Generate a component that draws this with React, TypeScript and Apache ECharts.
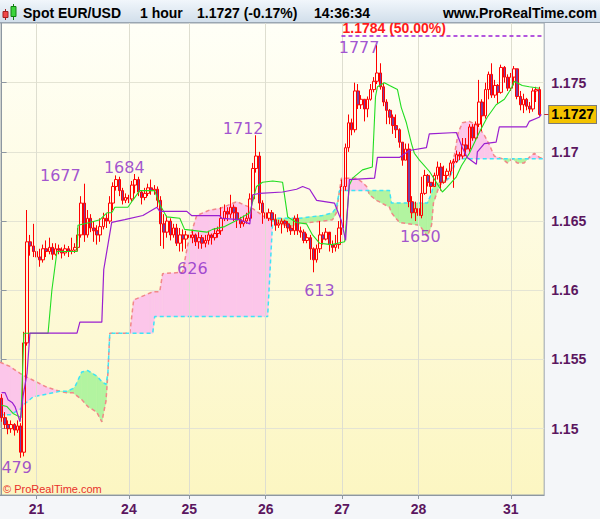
import React, { useEffect, useRef } from 'react';
import * as echarts from 'echarts';

// Prices are stored in pips: price = 1 + value / 10000
const firstOpen = 1522;
const closes = [
  1508, 1503, 1500, 1503, 1499, 1502, 1483, 1562, 1635, 1632,
  1628, 1624, 1622, 1630, 1628, 1631, 1626, 1630, 1629, 1627,
  1630, 1628, 1629, 1631, 1640, 1663, 1640, 1652, 1645, 1643,
  1640, 1646, 1652, 1650, 1663, 1675, 1680, 1672, 1665, 1667,
  1666, 1676, 1680, 1671, 1667, 1670, 1674, 1672, 1673, 1665,
  1648, 1642, 1650, 1640, 1645, 1634, 1640, 1637, 1640, 1638,
  1640, 1635, 1638, 1634, 1636, 1640, 1638, 1641, 1643, 1652,
  1657, 1655, 1660, 1656, 1651, 1648, 1650, 1652, 1666, 1688,
  1697, 1663, 1656, 1652, 1656, 1651, 1647, 1648, 1650, 1648,
  1645, 1643, 1652, 1643, 1642, 1636, 1638, 1630, 1622, 1630,
  1640, 1637, 1642, 1633, 1631, 1633, 1645, 1675, 1703, 1721,
  1716, 1744, 1734, 1738, 1731, 1738, 1745, 1751, 1757, 1747,
  1736, 1730, 1725, 1719, 1716, 1707, 1694, 1702, 1664, 1656,
  1659, 1654, 1670, 1683, 1678, 1675, 1683, 1689, 1678, 1683,
  1686, 1692, 1693, 1698, 1697, 1705, 1702, 1718, 1710, 1720,
  1736, 1726, 1745, 1756, 1741, 1748, 1743, 1761, 1754, 1746,
  1754, 1760, 1740, 1734, 1738, 1733, 1731, 1744, 1745, 1727,
];
const highs = [
  1525, 1512, 1506, 1506, 1504, 1506, 1504, 1570, 1658, 1640,
  1648, 1632, 1630, 1633, 1636, 1638, 1634, 1634, 1633, 1631,
  1633, 1632, 1638, 1634, 1645, 1668, 1677, 1658, 1655, 1650,
  1647, 1652, 1656, 1655, 1668, 1678, 1683, 1682, 1674, 1670,
  1669, 1679, 1684, 1682, 1672, 1674, 1677, 1680, 1676, 1675,
  1668, 1655, 1654, 1652, 1648, 1648, 1645, 1644, 1643, 1642,
  1643, 1641, 1642, 1640, 1640, 1643, 1641, 1645, 1646, 1660,
  1662, 1660, 1669, 1662, 1660, 1653, 1654, 1656, 1670, 1692,
  1712, 1700, 1665, 1658, 1659, 1658, 1655, 1651, 1652, 1651,
  1650, 1647, 1654, 1655, 1646, 1644, 1641, 1640, 1631, 1633,
  1650, 1642, 1645, 1640, 1636, 1640, 1650, 1680, 1706, 1727,
  1724, 1750, 1749, 1741, 1738, 1740, 1749, 1754, 1777, 1764,
  1750, 1738, 1731, 1727, 1727, 1717, 1707, 1706, 1706, 1668,
  1664, 1662, 1682, 1687, 1684, 1678, 1685, 1693, 1692, 1690,
  1688, 1694, 1695, 1701, 1700, 1710, 1710, 1720, 1720, 1722,
  1752, 1738, 1750, 1758, 1764, 1752, 1749, 1763, 1762, 1756,
  1757, 1762, 1760, 1744, 1742, 1739, 1736, 1746, 1747, 1747,
];
const lows = [
  1505, 1500, 1496, 1497, 1495, 1497, 1479, 1480, 1560, 1625,
  1624, 1618, 1617, 1620, 1624, 1626, 1622, 1625, 1626, 1623,
  1625, 1624, 1626, 1627, 1628, 1638, 1635, 1638, 1642, 1635,
  1633, 1635, 1644, 1645, 1648, 1658, 1672, 1668, 1662, 1663,
  1663, 1664, 1670, 1668, 1662, 1665, 1668, 1669, 1669, 1660,
  1632, 1630, 1638, 1636, 1638, 1632, 1628, 1628, 1630, 1626,
  1634, 1632, 1630, 1630, 1631, 1633, 1633, 1636, 1638, 1640,
  1650, 1650, 1652, 1650, 1645, 1645, 1646, 1648, 1650, 1664,
  1685, 1658, 1648, 1648, 1650, 1646, 1643, 1645, 1641, 1645,
  1642, 1640, 1640, 1640, 1638, 1634, 1634, 1622, 1613, 1620,
  1627, 1633, 1636, 1628, 1627, 1628, 1630, 1640, 1672, 1700,
  1712, 1714, 1731, 1731, 1722, 1725, 1737, 1743, 1749, 1745,
  1733, 1720, 1720, 1713, 1710, 1703, 1690, 1694, 1660, 1652,
  1650, 1651, 1652, 1669, 1675, 1670, 1675, 1680, 1672, 1677,
  1680, 1683, 1674, 1692, 1694, 1695, 1697, 1700, 1708, 1708,
  1718, 1715, 1724, 1738, 1739, 1739, 1735, 1742, 1750, 1744,
  1744, 1748, 1738, 1730, 1728, 1730, 1728, 1729, 1736, 1726,
];
const slotCount = 171;

// x-axis day labels (candle index where each day starts)
const dayTickIdx = [11, 40, 59, 83, 107, 131, 160];
const dayTickLabels = ['21', '24', '25', '26', '27', '28', '31'];

// y-axis tick labels
const yTicks = [1.15, 1.155, 1.16, 1.165, 1.17, 1.175];

// Tenkan (green) vertices: candle position, pips
const tenkanX = [0, 1.7, 3.6, 6.1, 7.0, 14.6, 15.8, 17.4, 23.7, 24.0, 27.7, 30.9, 33.1, 34.6, 35.6, 39.7, 41.2, 43.4, 48.1, 49.7, 51.9, 56.0, 57.5, 64.5, 66.3, 70.1, 74.2, 78.0, 80.1, 82.0, 85.2, 88.3, 89.9, 92.7, 95.8, 97.7, 99.9, 103.7, 107.8, 109.3, 110.3, 113.4, 116.5, 117.5, 118.1, 120.3, 121.9, 124.4, 125.6, 127.2, 128.8, 129.7, 131.3, 134.4, 136.6, 138.5, 139.8, 142.9, 144.5, 147.0, 150.1, 152.6, 155.4, 158.0, 160.2, 161.1, 163.6, 165.8, 169.0];
const tenkanV = [1517, 1516, 1511, 1508, 1569, 1569, 1600, 1628, 1628, 1647, 1649, 1651, 1656, 1656, 1660, 1660, 1665, 1672, 1672, 1662, 1653, 1652, 1644, 1642, 1644, 1646, 1651, 1656, 1675, 1678, 1679, 1678, 1653, 1649, 1648, 1640, 1634, 1633, 1635, 1676, 1681, 1687, 1689, 1740, 1747, 1750, 1748, 1745, 1732, 1721, 1706, 1699, 1694, 1686, 1678, 1671, 1674, 1682, 1690, 1699, 1714, 1725, 1734, 1738, 1746, 1751, 1748, 1747, 1746];

// Kijun (purple) vertices
const kijunX = [0, 1.1, 2.0, 3.3, 4.2, 5.1, 5.8, 6.7, 8.0, 8.9, 23.7, 24.6, 31.5, 32.1, 34.6, 38.7, 44.4, 48.8, 49.7, 58.2, 59.7, 68.5, 69.2, 74.8, 78.0, 78.9, 81.1, 88.3, 92.7, 94.6, 96.8, 99.0, 104.6, 106.8, 108.1, 109.3, 117.2, 118.1, 125.0, 128.1, 133.5, 134.4, 142.9, 144.8, 146.3, 149.2, 149.5, 151.7, 155.4, 156.4, 164.9, 165.8, 168.9, 169.6];
const kijunV = [1526, 1526, 1521, 1519, 1516, 1510, 1505, 1523, 1540, 1569, 1569, 1577, 1577, 1615, 1649, 1651, 1654, 1660, 1657, 1657, 1654, 1654, 1652, 1651, 1648, 1669, 1670, 1671, 1673, 1675, 1673, 1665, 1663, 1650, 1636, 1680, 1681, 1696, 1696, 1701, 1703, 1713, 1714, 1703, 1696, 1691, 1700, 1706, 1707, 1718, 1718, 1722, 1725, 1727];

// Cloud: span A (salmon) and span B (cyan)
const cloudX = [-0.5, 2.6, 5.8, 7.3, 9.9, 14.2, 18.3, 20.5, 22.4, 23.0, 25.2, 27.1, 29.9, 31.5, 32.8, 33.4, 34.0, 40.3, 41.5, 46.6, 47.5, 48.1, 49.7, 50.6, 56.9, 58.5, 61.3, 65.4, 68.5, 73.9, 78.9, 82.0, 83.6, 85.2, 86.4, 90.5, 93.6, 96.8, 100.9, 104.0, 105.2, 106.2, 106.8, 111.5, 113.4, 114.7, 115.6, 117.8, 121.9, 122.5, 125.0, 131.3, 133.8, 135.1, 135.7, 137.6, 140.7, 142.3, 143.5, 144.8, 147.0, 149.5, 151.7, 153.3, 154.8, 157.3, 158.9, 160.5, 162.0, 164.2, 165.8, 167.4, 169.0, 170.5];
const spanA = [1548, 1545, 1540, 1538, 1535, 1530, 1527, 1526, 1526, 1525, 1521, 1516, 1512, 1505, 1520, 1540, 1569, 1569, 1593, 1598, 1599, 1599, 1599, 1612, 1613, 1633, 1654, 1658, 1659, 1664, 1659, 1654, 1652, 1650, 1649, 1646, 1648, 1649, 1650, 1651, 1656, 1672, 1681, 1681, 1678, 1675, 1669, 1665, 1660, 1656, 1649, 1647, 1639, 1647, 1663, 1676, 1681, 1698, 1714, 1721, 1722, 1719, 1712, 1705, 1697, 1695, 1692, 1695, 1692, 1692, 1696, 1699, 1696, 1695];
const spanB = [1510, 1510, 1514, 1518, 1523, 1525, 1527, 1527, 1529, 1530, 1541, 1542, 1538, 1534, 1532, 1540, 1569, 1569, 1569, 1569, 1569, 1581, 1581, 1581, 1581, 1581, 1581, 1581, 1581, 1581, 1581, 1581, 1581, 1651, 1652, 1652, 1652, 1653, 1654, 1656, 1660, 1672, 1672, 1672, 1672, 1672, 1672, 1672, 1672, 1663, 1663, 1663, 1663, 1670, 1676, 1678, 1681, 1690, 1694, 1695, 1695, 1695, 1695, 1695, 1695, 1695, 1695, 1695, 1695, 1695, 1695, 1695, 1695, 1695];

// Highs / lows annotations
const extremeIdx = [118, 80, 42, 26, 59, 98, 130, 6];
const extremeVal = [1777, 1712, 1684, 1677, 1626, 1613, 1650, 1479];
const extremeText = ['1777', '1712', '1684', '1677', '626', '613', '1650', '479'];

// Header / markers
const instrument = 'Spot EUR/USD';
const timeframe = '1 hour';
const lastQuote = '1.1727 (-0.17%)';
const clock = '14:36:34';
const lastPrice = 1.1727;
const fibLevel = 1.1784;
const fibText = '1.1784 (50.00%)';
const fibStartIdx = 106.8;

const P = (v: number) => +(1 + v / 10000).toFixed(4);

const labelOffsets = [[-18, 2], [-13, -7], [-11, -7], [-24, -8], [3, 14], [6, 18], [5, 15], [-4, 10]];
const PINK = '#fcc6ea';
const GREEN = '#b2f4a0';
const AXIS_TXT = '#5b1660';
const FONT = '"Liberation Sans", Arial, sans-serif';
const Y_MIN = 1.14521;
const Y_MAX = 1.17931;

function buildOption() {
  const candleData = closes.map((c, i) => {
    const o = i === 0 ? firstOpen : closes[i - 1];
    return [P(o), P(c), P(lows[i]), P(highs[i])];
  });
  const cats = Array.from({ length: slotCount }, (_, i) => String(i));
  const isDay = (idx: number) => dayTickIdx.indexOf(idx) >= 0;

  const cloudSeg = cloudX.slice(0, -1).map((x, k) => [x, P(spanA[k])]);

  return {
    animation: false,
    backgroundColor: '#f4f6f9',
    grid: {
      show: true, left: 0, top: 23, right: 55, bottom: 24,
      backgroundColor: new echarts.graphic.LinearGradient(0, 0, 0, 1, [
        { offset: 0, color: '#fffff7' },
        { offset: 1, color: '#fcf6c2' },
      ]),
      borderColor: '#9aa4ae', borderWidth: 1,
    },
    xAxis: [
      {
        type: 'category', data: cats, boundaryGap: true, position: 'bottom',
        axisLine: { show: true, lineStyle: { color: '#8d97a1' } },
        axisTick: { show: true, interval: (i: number) => isDay(i), alignWithLabel: true, length: 4, lineStyle: { color: '#8d97a1' } },
        axisLabel: {
          interval: (i: number) => isDay(i),
          formatter: (_v: string, i: number) => dayTickLabels[dayTickIdx.indexOf(i)] || '',
          color: AXIS_TXT, fontWeight: 'bold', fontSize: 14, fontFamily: FONT, margin: 7,
        },
        splitLine: { show: false },
      },
      { type: 'value', min: -0.5, max: slotCount - 0.5, show: false },
    ],
    yAxis: [
      {
        type: 'value', position: 'right', min: Y_MIN, max: Y_MAX,
        minInterval: 0.005, maxInterval: 0.005, splitNumber: 7,
        axisLine: { show: true, lineStyle: { color: '#8d97a1' } },
        axisTick: { show: true, length: 5, lineStyle: { color: '#8d97a1' }, customValues: yTicks },
        axisLabel: {
          customValues: yTicks, margin: 7,
          color: AXIS_TXT, fontWeight: 'bold', fontSize: 14, fontFamily: FONT,
          formatter: (v: number) => String(+v.toFixed(4)),
        },
        splitLine: { show: true, lineStyle: { color: '#e4e4d4' } },
      },
      {
        type: 'value', position: 'right', min: Y_MIN, max: Y_MAX,
        minInterval: 0.005, maxInterval: 0.005, splitNumber: 7,
        axisLine: { show: false },
        axisTick: { show: true, length: 5, lineStyle: { color: '#c03030' }, customValues: [lastPrice] },
        axisLabel: {
          customValues: [lastPrice], margin: 5,
          formatter: (v: number) => v.toFixed(4),
          backgroundColor: '#f4c300', borderColor: '#7a7a7a', borderWidth: 1, padding: [2, 2, 1, 2],
          color: '#000', fontWeight: 'bold', fontSize: 14, fontFamily: FONT,
        },
        splitLine: { show: false },
      },
    ],
    graphic: [
      {
        type: 'rect', z: 100, shape: { x: 0, y: 0, width: 600, height: 22 },
        style: { fill: new echarts.graphic.LinearGradient(0, 0, 0, 1, [{ offset: 0, color: '#f1f6fb' }, { offset: 1, color: '#d2dfeb' }]) },
      },
      { type: 'line', z: 101, shape: { x1: 0, y1: 22.5, x2: 600, y2: 22.5 }, style: { stroke: '#9aa6b2', lineWidth: 1 } },
      { type: 'line', z: 101, shape: { x1: 5.5, y1: 9, x2: 5.5, y2: 20 }, style: { stroke: '#a02020', lineWidth: 1 } },
      { type: 'rect', z: 102, shape: { x: 3, y: 11.5, width: 5, height: 6 }, style: { fill: '#f04848', stroke: '#a02020', lineWidth: 1 } },
      { type: 'line', z: 101, shape: { x1: 13.5, y1: 4, x2: 13.5, y2: 20 }, style: { stroke: '#108010', lineWidth: 1 } },
      { type: 'rect', z: 102, shape: { x: 11, y: 6.5, width: 5, height: 10 }, style: { fill: '#3cd43c', stroke: '#108010', lineWidth: 1 } },
      { type: 'text', z: 103, x: 23, y: 12.5, style: { text: instrument, fill: '#000', font: `bold 14px ${FONT}`, textVerticalAlign: 'middle' } },
      { type: 'text', z: 103, x: 140, y: 12.5, style: { text: timeframe, fill: '#000', font: `bold 14px ${FONT}`, textVerticalAlign: 'middle' } },
      { type: 'text', z: 103, x: 197, y: 12.5, style: { text: lastQuote, fill: '#000', font: `bold 14px ${FONT}`, textVerticalAlign: 'middle' } },
      { type: 'text', z: 103, x: 314, y: 12.5, style: { text: clock, fill: '#000', font: `bold 14px ${FONT}`, textVerticalAlign: 'middle' } },
      { type: 'text', z: 103, x: 597, y: 12.5, style: { text: 'www.ProRealTime.com', fill: '#000', font: `bold 14px ${FONT}`, textAlign: 'right', textVerticalAlign: 'middle' } },
      { type: 'text', z: 103, x: 3, y: 489, style: { text: '© ProRealTime.com', fill: '#e8302a', font: `11px ${FONT}`, textVerticalAlign: 'middle' } },
    ],
    series: [
      {
        type: 'line', xAxisIndex: 1, data: [], z: 1, silent: true,
        markLine: {
          silent: true, symbol: ['none', 'none'], animation: false,
          label: { show: false },
          lineStyle: { color: '#deded0', width: 1, type: 'solid' },
          data: dayTickIdx.map((x) => ({ xAxis: x })),
        },
      },
      {
        type: 'custom', xAxisIndex: 1, z: 2, silent: true, clip: true,
        data: cloudSeg,
        encode: { x: 0, y: 1 },
        renderItem: (params: any, api: any) => {
          const k = params.dataIndex;
          const x0 = cloudX[k], x1 = cloudX[k + 1];
          const a0 = P(spanA[k]), a1 = P(spanA[k + 1]);
          const b0 = P(spanB[k]), b1 = P(spanB[k + 1]);
          const d0 = a0 - b0, d1 = a1 - b1;
          const c = (x: number, y: number) => api.coord([x, y]);
          const children: any[] = [];
          const poly = (pts: number[][], up: boolean) => {
            const col = up ? PINK : GREEN;
            children.push({ type: 'polygon', shape: { points: pts }, style: { fill: col, stroke: col, lineWidth: 0.6 } });
          };
          if (d0 * d1 >= 0) {
            if (Math.abs(d0) + Math.abs(d1) > 0) poly([c(x0, a0), c(x1, a1), c(x1, b1), c(x0, b0)], d0 + d1 > 0);
          } else {
            const t = d0 / (d0 - d1);
            const xc = x0 + t * (x1 - x0);
            const yc = a0 + t * (a1 - a0);
            poly([c(x0, a0), c(xc, yc), c(x0, b0)], d0 > 0);
            poly([c(xc, yc), c(x1, a1), c(x1, b1)], d1 > 0);
          }
          return { type: 'group', children };
        },
      },
      {
        type: 'line', xAxisIndex: 1, z: 3, silent: true, symbol: 'none', showSymbol: false,
        data: cloudX.map((x, k) => [x, P(spanA[k])]),
        lineStyle: { color: '#f28888', width: 1.5, type: [4, 3] },
      },
      {
        type: 'line', xAxisIndex: 1, z: 3, silent: true, symbol: 'none', showSymbol: false,
        data: cloudX.map((x, k) => [x, P(spanB[k])]),
        lineStyle: { color: '#3ee4f6', width: 1.5, type: [4, 3] },
      },
      {
        type: 'candlestick', xAxisIndex: 0, z: 4, silent: true,
        data: candleData, barWidth: 3,
        itemStyle: { color: 'rgba(0,0,0,0)', color0: '#7a3e9d', borderColor: '#ff0000', borderColor0: '#ff0000', borderWidth: 1 },
      },
      {
        type: 'line', xAxisIndex: 1, z: 5, silent: true, symbol: 'none', showSymbol: false,
        data: tenkanX.map((x, k) => [x, P(tenkanV[k])]),
        lineStyle: { color: '#22dd22', width: 1.1 },
      },
      {
        type: 'line', xAxisIndex: 1, z: 5, silent: true, symbol: 'none', showSymbol: false,
        data: kijunX.map((x, k) => [x, P(kijunV[k])]),
        lineStyle: { color: '#9a1fd0', width: 1.2 },
      },
      {
        type: 'line', xAxisIndex: 1, data: [], z: 6, silent: true,
        markLine: {
          silent: true, symbol: ['none', 'none'], animation: false,
          data: [
            [
              {
                coord: [fibStartIdx, fibLevel],
                lineStyle: { color: '#9a1fd6', width: 1.5, type: [4, 3] },
                label: { show: true, position: 'insideStartTop', formatter: fibText, color: '#ff1a1a', fontWeight: 'bold', fontSize: 14, fontFamily: FONT, distance: 1 },
              },
              { coord: [slotCount - 0.5, fibLevel] },
            ],
          ],
        },
      },
      {
        type: 'scatter', xAxisIndex: 1, z: 7, silent: true, clip: false,
        symbolSize: 0.1,
        data: extremeIdx.map((x, k) => ({ value: [x, P(extremeVal[k])], label: { offset: labelOffsets[k] } })),
        label: {
          show: true, position: 'inside',
          formatter: (p: any) => extremeText[p.dataIndex],
          color: '#8a28c8', fontSize: 16, fontFamily: '"DejaVu Sans", sans-serif',
        },
      },
    ],
  };
}

export default function App() {
  const ref = useRef<HTMLDivElement>(null);
  useEffect(() => {
    document.body.style.margin = '0';
    const chart = echarts.init(ref.current as HTMLDivElement, null, { renderer: 'svg' });
    chart.setOption(buildOption() as any);
    return () => chart.dispose();
  }, []);
  return <div ref={ref} style={{ width: 600, height: 519 }} />;
}
